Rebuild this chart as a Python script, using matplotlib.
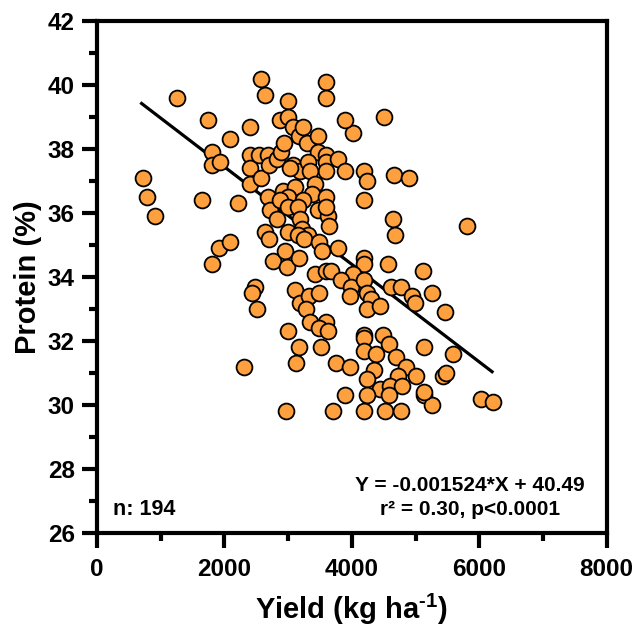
import matplotlib
matplotlib.use("Agg")
import matplotlib.pyplot as plt
import numpy as np

plt.rcParams['font.family'] = ['Liberation Sans', 'DejaVu Sans']
plt.rcParams['font.weight'] = 'bold'
plt.rcParams['mathtext.fontset'] = 'custom'
plt.rcParams['mathtext.rm'] = 'Liberation Sans:bold'
plt.rcParams['mathtext.default'] = 'rm'

# yield (kg/ha) and protein (%)
yield_kg = [720, 785, 905, 1260, 1650, 1740, 1800, 1800, 1800, 1925,
            1915, 2095, 2095, 2220, 2300, 2395, 2395, 2395, 2395, 2480,
            2435, 2505, 2575, 2640, 2545, 2570, 2690, 2700, 2825, 2895,
            2690, 2715, 2830, 2640, 2700, 2755, 2950, 2975, 2990, 2965,
            2990, 2870, 3005, 3080, 2940, 3175, 3235, 3290, 3475, 3470,
            3600, 3600, 3600, 3785, 3900, 4190, 4245, 4660, 4900, 4020,
            3900, 4500, 3600, 3600, 3080, 3185, 3315, 3340, 3030, 2925,
            3105, 3420, 3000, 3370, 2870, 3235, 3000, 3470, 3155, 3185,
            3620, 3000, 3210, 3315, 3640, 3600, 3600, 4190, 4650, 4675,
            5810, 3115, 3185, 3170, 3130, 3155, 3250, 3480, 3525, 3175,
            3785, 3420, 3600, 3680, 4195, 4195, 4565, 5110, 4020, 3835,
            3985, 4195, 3325, 3480, 3970, 4240, 4300, 4230, 4440, 4620,
            4775, 4950, 4985, 5260, 5465, 3285, 3340, 3600, 3480, 3630,
            4195, 4195, 4490, 4585, 5130, 5585, 3520, 4195, 4385, 4700,
            4845, 3745, 3965, 4345, 4725, 5010, 5430, 5485, 4240, 4440,
            4595, 4790, 4580, 3900, 4230, 5130, 5260, 5130, 6030, 6210,
            3705, 4195, 4520, 4775]
protein = [37.1, 36.5, 35.9, 39.6, 36.4, 38.9, 34.4, 37.9, 37.5, 37.6,
           34.9, 38.3, 35.1, 36.3, 31.2, 38.7, 37.8, 37.4, 36.9, 33.7,
           33.5, 33.0, 40.2, 39.7, 37.8, 37.1, 37.8, 37.5, 37.7, 37.9,
           36.5, 36.1, 35.8, 35.4, 35.2, 34.5, 34.8, 34.3, 32.3, 29.8,
           39.5, 38.9, 39.0, 38.7, 38.2, 38.4, 38.7, 38.2, 38.4, 37.9,
           37.8, 37.6, 37.3, 37.7, 37.3, 37.3, 37.0, 37.2, 37.1, 38.5,
           38.9, 39.0, 40.1, 39.6, 37.5, 37.3, 37.6, 37.3, 37.4, 36.7,
           36.8, 36.9, 36.5, 36.6, 36.4, 36.4, 36.2, 36.1, 36.2, 35.8,
           35.9, 35.4, 35.5, 35.3, 35.6, 36.5, 36.2, 36.4, 35.8, 35.3,
           35.6, 33.6, 33.2, 31.8, 31.3, 35.3, 35.2, 35.1, 34.8, 34.6,
           34.9, 34.1, 34.2, 34.2, 34.6, 34.4, 34.4, 34.2, 34.1, 33.9,
           33.7, 33.9, 33.4, 33.5, 33.4, 33.5, 33.3, 33.0, 33.1, 33.7,
           33.7, 33.4, 33.2, 33.5, 32.9, 33.0, 32.6, 32.6, 32.4, 32.3,
           32.2, 32.1, 32.2, 31.9, 31.8, 31.6, 31.8, 31.7, 31.6, 31.5,
           31.2, 31.3, 31.2, 31.1, 30.9, 30.9, 30.9, 31.0, 30.8, 30.5,
           30.6, 30.6, 30.3, 30.3, 30.3, 30.3, 30.0, 30.4, 30.2, 30.1,
           29.8, 29.8, 29.8, 29.8]

# fitted line from the chart
slope = -0.001524
intercept = 40.49
fit_range = [700, 6200]

fig = plt.figure(figsize=(6.36, 6.35), dpi=100)
ax = fig.add_axes([0.1525, 0.1606, 0.8015, 0.8063])

fx = np.array(fit_range)
ax.plot(fx, slope * fx + intercept, color='black', lw=2.3, zorder=2)
ax.scatter(yield_kg, protein, s=130, facecolor='#FFA03E', edgecolor='black',
           linewidth=1.3, zorder=3)

ax.set_xlim(0, 8000)
ax.set_ylim(26, 42)
ax.set_xticks(np.arange(0, 8001, 2000))
ax.set_xticks(np.arange(1000, 8000, 2000), minor=True)
ax.set_yticks(np.arange(26, 43, 2))
ax.set_yticks(np.arange(27, 42, 2), minor=True)

for s in ax.spines.values():
    s.set_linewidth(3)
ax.tick_params(which='major', length=11, width=3, labelsize=17.5, pad=5)
ax.tick_params(axis='x', which='major', pad=7)
ax.tick_params(which='minor', length=5.5, width=3)
for lab in ax.get_xticklabels() + ax.get_yticklabels():
    lab.set_fontweight('bold')

ax.set_xlabel('Yield (kg ha$^{\\text{-}1}$)', fontsize=21, fontweight='bold', labelpad=8)
ax.set_ylabel('Protein (%)', fontsize=21, fontweight='bold', labelpad=4)

ax.text(250, 26.72, 'n: 194', fontsize=15.5, fontweight='bold', va='center', ha='left')
ax.text(5850, 27.47, 'Y = -0.001524*X + 40.49', fontsize=15, fontweight='bold',
        va='center', ha='center')
ax.text(5850, 26.75, 'r² = 0.30, p<0.0001', fontsize=15, fontweight='bold',
        va='center', ha='center')

fig.savefig('out.png', dpi=100)
